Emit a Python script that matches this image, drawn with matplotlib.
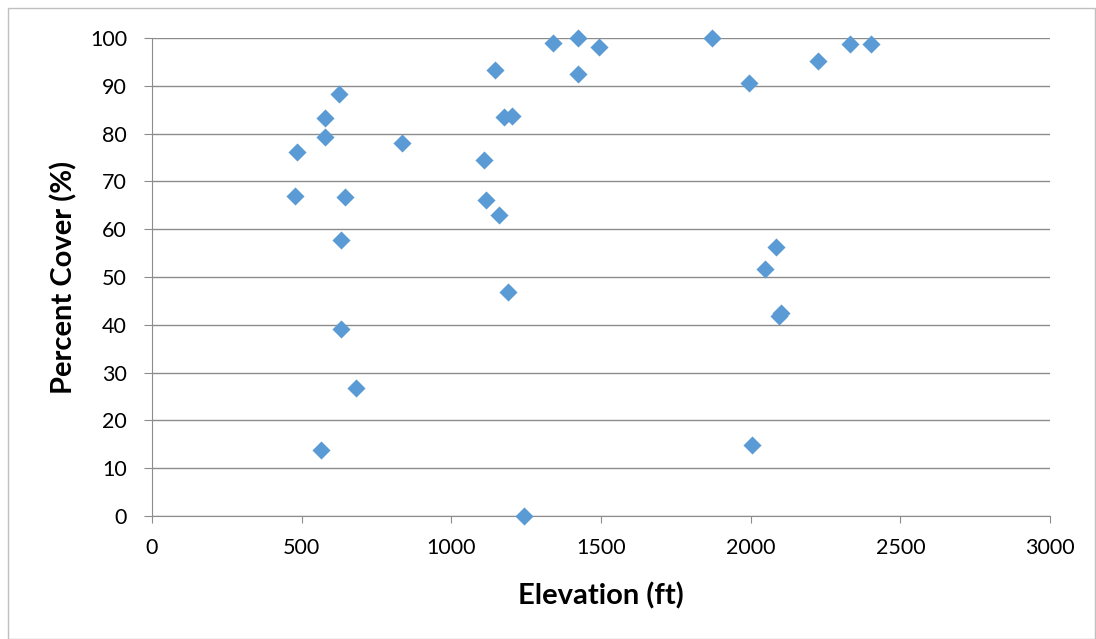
import matplotlib.pyplot as plt
from matplotlib.patches import Rectangle

# elevation (ft) vs percent cover (%)
elevation = [484, 478, 578, 578, 625, 645, 631, 631, 682, 565, 835,
             1109, 1116, 1159, 1146, 1176, 1203, 1190, 1243, 1340, 1423,
             1423, 1494, 1871, 1995, 2005, 2085, 2048, 2095, 2102, 2225,
             2332, 2402]
cover = [76.2, 67.0, 83.3, 79.2, 88.3, 66.8, 57.7, 39.1, 26.8, 13.8, 78.0,
         74.5, 66.2, 63.0, 93.4, 83.5, 83.7, 46.9, 0.0, 98.9, 100.0,
         92.5, 98.1, 100.0, 90.6, 14.9, 56.3, 51.7, 41.8, 42.5, 95.2,
         98.8, 98.7]

x_ticks = [0, 500, 1000, 1500, 2000, 2500, 3000]
y_ticks = [0, 10, 20, 30, 40, 50, 60, 70, 80, 90, 100]

plt.rcParams['font.family'] = ['Lato', 'DejaVu Sans']

fig = plt.figure(figsize=(10.96, 6.39), dpi=100)
ax = fig.add_axes([152 / 1096, 1 - 516 / 639, 898 / 1096, 478 / 639])

ax.scatter(elevation, cover, marker='D', s=85, color='#5B9BD5',
           linewidths=0, zorder=3, clip_on=False)

ax.set_xlim(0, 3000)
ax.set_ylim(0, 100)
ax.set_xticks(x_ticks)
ax.set_yticks(y_ticks)
ax.yaxis.grid(True, color='#8C8C8C', linewidth=1)
ax.set_axisbelow(True)

for side in ['top', 'right']:
    ax.spines[side].set_visible(False)
for side in ['left', 'bottom']:
    ax.spines[side].set_color('#8C8C8C')
ax.tick_params(axis='both', direction='out', color='#8C8C8C', labelsize=15.5)
ax.tick_params(axis='y', length=6, pad=12)
ax.tick_params(axis='x', length=5, pad=11)

ax.set_xlabel('Elevation (ft)', fontsize=21, fontweight='bold', labelpad=17)
ax.set_ylabel('Percent Cover (%)', fontsize=21, fontweight='bold', labelpad=9)

fig.patches.append(Rectangle((8 / 1096, 0), 1 - 9 / 1096, 1 - 8 / 639,
                             transform=fig.transFigure, fill=False,
                             edgecolor='#BFBFBF', linewidth=1))

fig.savefig('out.png', dpi=100)
